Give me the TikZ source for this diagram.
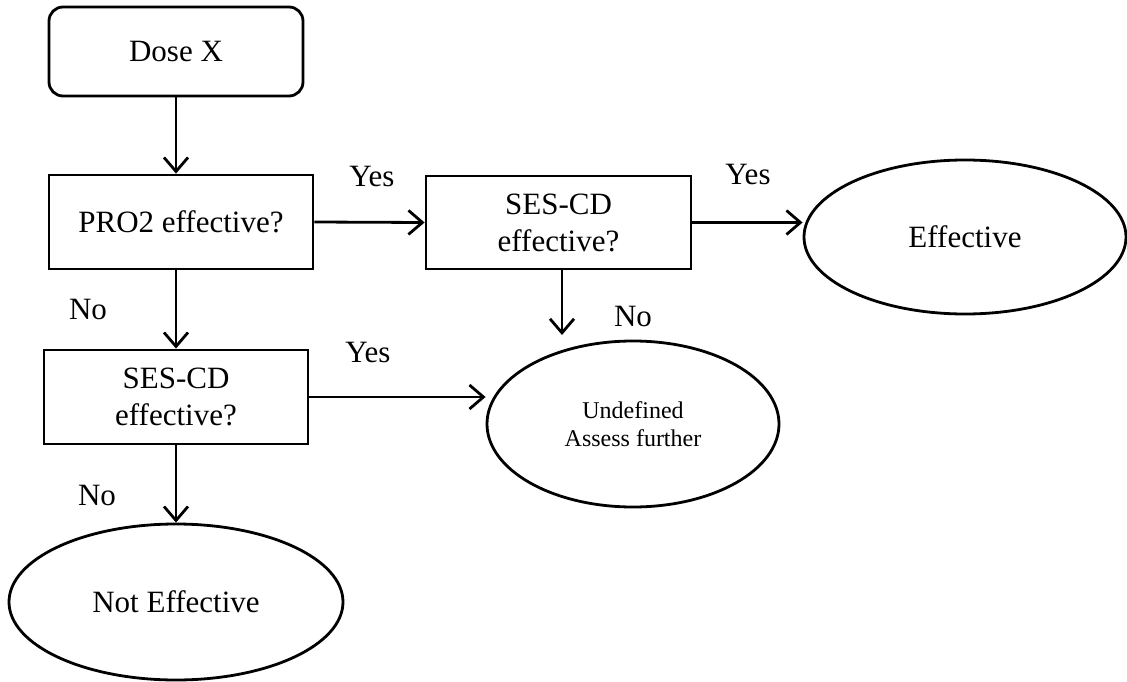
\documentclass[tikz,border=0pt]{standalone}
\usepackage{fontspec}
\setmainfont{Liberation Serif}
\usetikzlibrary{arrows.meta,shapes.geometric}
\tikzset{
  base/.style={draw=black, line width=2.8pt, inner sep=0pt, align=center,
    font=\fontsize{31}{37}\selectfont},
  roundbox/.style={base, rectangle, rounded corners=14pt},
  qbox/.style={base, rectangle},
  oval/.style={base, ellipse},
  lbl/.style={font=\fontsize{31}{37}\selectfont, inner sep=0pt},
  conn/.style={line width=2.8pt, -{Straight Barb[length=14pt,width=24pt,line width=2.8pt]}}
}
\begin{document}
\begin{tikzpicture}[x=1pt,y=-1pt]
\useasboundingbox (0,0) rectangle (1127,682);
\node[roundbox, minimum width=254pt, minimum height=89pt] (dose) at (176,51.5) {Dose X};
\node[qbox, minimum width=264pt, minimum height=94pt] (pro) at (181,222) {PRO2 effective?};
\node[qbox, minimum width=265pt, minimum height=93pt] (tses) at (558.5,222.5) {SES-CD\\effective?};
\node[qbox, minimum width=264pt, minimum height=94pt] (lses) at (176,397) {SES-CD\\effective?};
\node[oval, minimum width=322pt, minimum height=154pt] (eff) at (965,237) {Effective};
\node[oval, minimum width=292pt, minimum height=166pt, font=\fontsize{24}{28}\selectfont] (und) at (633,424) {Undefined\\Assess further};
\node[oval, minimum width=334pt, minimum height=156pt] (neff) at (176,602) {Not Effective};
\coordinate (nofree) at (562,335);

\draw[conn] (dose.south) -- (dose.south |- pro.north);
\draw[conn] (pro.east) -- (tses.west);
\draw[conn] (tses.east) -- (tses.east -| eff.west);
\draw[conn] (tses.south -| nofree) -- (nofree);
\draw[conn] (pro.south -| lses.north) -- (lses.north);
\draw[conn] (lses.east) -- (lses.east -| und.west);
\draw[conn] (lses.south) -- (neff.north);

\node[lbl] (y1) at (372,177) {Yes};
\node[lbl] (y2) at (748,175) {Yes};
\node[lbl] (n1) at (633,317) {No};
\node[lbl] (y3) at (368,352) {Yes};
\node[lbl] (n2) at (88,310) {No};
\node[lbl] (n3) at (97,495) {No};
\end{tikzpicture}
\end{document}
